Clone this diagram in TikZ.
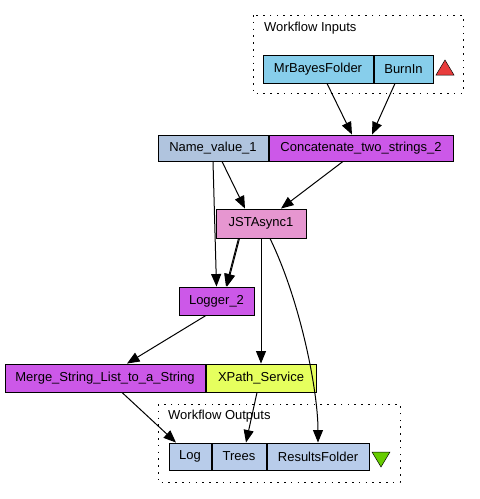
\documentclass[tikz,border=0pt]{standalone}
\usepackage{fontspec}
\setmainfont{Liberation Sans}
\usetikzlibrary{arrows.meta}
\definecolor{inblue}{RGB}{135,206,235}
\definecolor{steel}{RGB}{176,196,222}
\definecolor{orchid}{RGB}{204,88,232}
\definecolor{pinkjs}{RGB}{230,150,208}
\definecolor{xpathy}{RGB}{230,255,94}
\definecolor{outblue}{RGB}{184,204,234}
\definecolor{redtri}{RGB}{232,60,60}
\definecolor{greentri}{RGB}{102,204,0}
\tikzset{
  box/.style={draw=black, line width=0.9pt, inner sep=0pt, font=\fontsize{13}{15}\selectfont},
  grp/.style={draw=black, line width=1pt, dash pattern=on 1.6pt off 5.2pt},
  edge/.style={draw=black, line width=1pt, -{Triangle[length=12.5pt,width=10pt]}},
  lbl/.style={anchor=west, inner sep=0pt, font=\fontsize{13}{15}\selectfont}
}
\begin{document}
\begin{tikzpicture}[x=1pt,y=-1pt]
\useasboundingbox (0,0) rectangle (480,499);
% groups
\draw[grp] (253,15) rectangle (463,93);
\node[lbl] (inlbl) at (264,28) {Workflow Inputs};
\draw[grp] (158,404) rectangle (400,482);
\node[lbl] (outlbl) at (168,416) {Workflow Outputs};
% inputs
\node[box, fill=inblue, minimum width=110pt, minimum height=28pt] (mb) at (318,69) {MrBayesFolder};
\node[box, fill=inblue, minimum width=59pt, minimum height=28pt] (burn) at (403.5,69) {BurnIn};
\fill[redtri, draw=black, line width=0.5pt] (436,75) -- (454,75) -- (445,60) -- cycle;
% middle
\node[box, fill=steel, minimum width=110pt, minimum height=26pt] (nv) at (213,148) {Name\_value\_1};
\node[box, fill=orchid, minimum width=184pt, minimum height=26pt] (conc) at (361,148) {Concatenate\_two\_strings\_2};
\node[box, fill=pinkjs, minimum width=90pt, minimum height=29pt] (js) at (261,223.5) {JSTAsync1};
\node[box, fill=orchid, minimum width=75pt, minimum height=28pt] (lg) at (216.5,301) {Logger\_2};
\node[box, fill=orchid, minimum width=200pt, minimum height=28pt] (mg) at (105,378) {Merge\_String\_List\_to\_a\_String};
\node[box, fill=xpathy, minimum width=110pt, minimum height=28pt] (xp) at (261,378) {XPath\_Service};
% outputs
\node[box, fill=outblue, minimum width=42pt, minimum height=27pt] (log) at (190,456.5) {Log};
\node[box, fill=outblue, minimum width=54pt, minimum height=27pt] (tr) at (239,456.5) {Trees};
\node[box, fill=outblue, minimum width=102pt, minimum height=27pt] (rf) at (318,456.5) {ResultsFolder};
\fill[greentri, draw=black, line width=0.5pt] (372,452) -- (390,452) -- (381,467) -- cycle;
% edges
\draw[edge] ([xshift=9pt]mb.south) -- ([xshift=-9pt]conc.north);
\draw[edge] ([xshift=-8.5pt]burn.south) -- ([xshift=11pt]conc.north);
\draw[edge] ([xshift=9pt]nv.south) -- ([xshift=-16pt]js.north);
\draw[edge] (nv.south) -- (lg.north);
\draw[edge] ([xshift=-18pt]conc.south) -- ([xshift=20pt]js.north);
\draw[edge] ([xshift=-22.5pt]js.south) -- ([xshift=9.5pt]lg.north);
\draw[edge] ([xshift=-21.5pt]js.south) -- ([xshift=10.5pt]lg.north);
\draw[edge] (js.south) -- (xp.north);
\draw[edge] ([xshift=9pt]js.south) .. controls (300,300) and (318,390) .. (rf.north);
\draw[edge] ([xshift=-10.5pt]lg.south) -- ([xshift=22pt]mg.north);
\draw[edge] ([xshift=17pt]mg.south) -- ([xshift=-14pt]log.north);
\draw[edge] ([xshift=-4pt]xp.south) -- ([xshift=7pt]tr.north);
\end{tikzpicture}
\end{document}
